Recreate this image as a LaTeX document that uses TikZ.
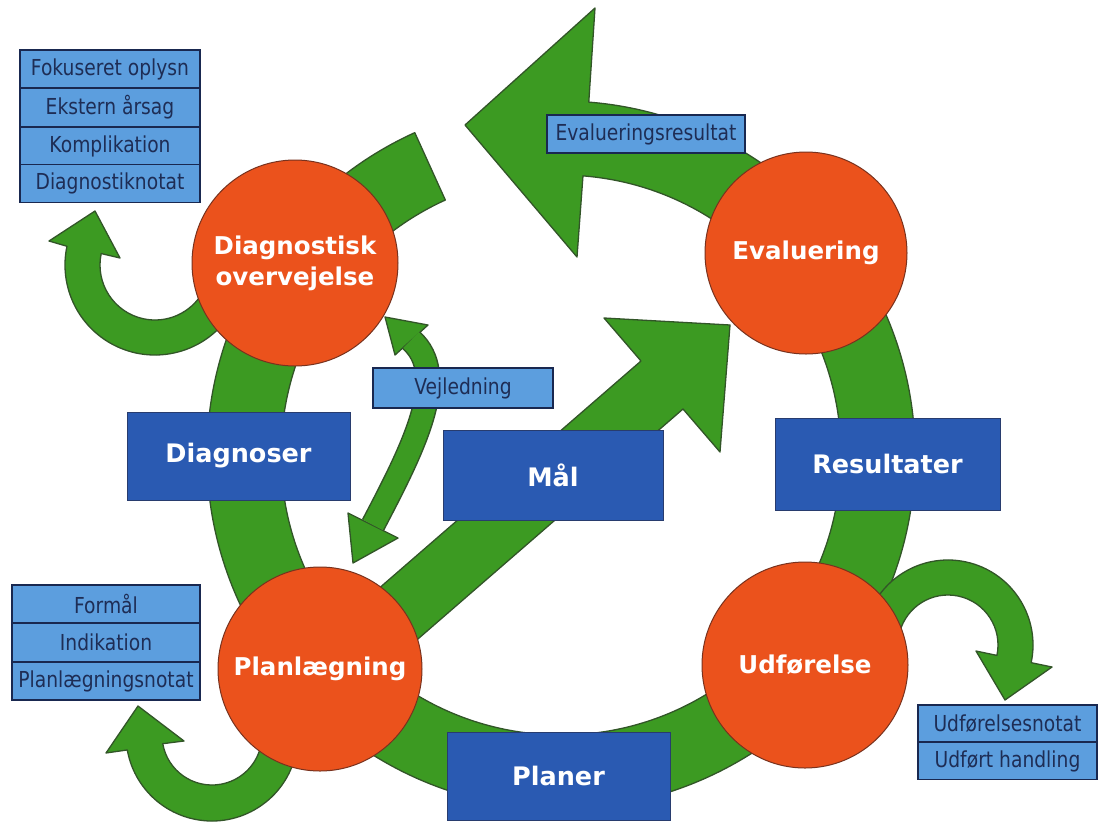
\documentclass[tikz,border=0pt]{standalone}
\usepackage{fontspec}
\setmainfont{DejaVu Sans}
\newfontfamily\lightfont[FakeStretch=0.85]{DejaVu Sans}
\definecolor{grn}{RGB}{60,154,34}
\definecolor{grnd}{RGB}{50,85,40}
\definecolor{org}{RGB}{235,82,28}
\definecolor{orgd}{RGB}{120,50,30}
\definecolor{dblue}{RGB}{42,90,178}
\definecolor{dbluedk}{RGB}{40,60,110}
\definecolor{lblue}{RGB}{92,158,222}
\definecolor{navy}{RGB}{25,40,80}
\definecolor{ltxt}{RGB}{30,45,85}
\begin{document}
\begin{tikzpicture}[x=1pt,y=-1pt,
  greenshape/.style={fill=grn, draw=grnd, line width=1.3pt, line join=round},
  circ/.style={circle, fill=org, draw=orgd, line width=1pt, text=white,
    font=\bfseries\fontsize{24.5}{31}\selectfont, align=center, inner sep=0pt},
  dbox/.style={rectangle, fill=dblue, draw=dbluedk, line width=1pt, text=white,
    font=\bfseries\fontsize{25.5}{29}\selectfont, inner sep=0pt},
  lbox/.style={rectangle, fill=lblue, draw=navy, line width=1.5pt, text=ltxt,
    font=\lightfont\fontsize{22}{26}\selectfont, inner sep=0pt}
]
\useasboundingbox (0,0) rectangle (1098,823);
\fill[white] (0,0) rectangle (1098,823);

% big cycle arrow
\path[greenshape] ([shift={(561,455)}]245.6:354)
  arc[start angle=245.6, end angle=-85.5, radius=354]
  -- (595,8) -- (465,125) -- (577,257)
  -- ([shift={(561,455)}]-85.5:280)
  arc[start angle=-85.5, end angle=245.6, radius=280] -- cycle;

% small loop arrows
\path[greenshape] ([shift={(155,265)}]30:90)
  arc[start angle=30, end angle=192, radius=90]
  -- (49,241) -- (95,211) -- (120,258)
  -- ([shift={(155,265)}]192:55)
  arc[start angle=192, end angle=30, radius=55] -- cycle;

\path[greenshape] ([shift={(212,735)}]15:86)
  arc[start angle=15, end angle=170, radius=86]
  -- (106,753) -- (138,706) -- (184,741)
  -- ([shift={(212,735)}]170:50)
  arc[start angle=170, end angle=15, radius=50] -- cycle;

\path[greenshape] ([shift={(948,645)}]195:85)
  arc[start angle=195, end angle=372, radius=85]
  -- (1052,667) -- (1005,700) -- (976,651)
  -- ([shift={(948,645)}]372:50)
  arc[start angle=372, end angle=195, radius=50] -- cycle;

% Maal arrow
\path[greenshape] (339,623) -- (641,361) -- (604,318) -- (730,325)
  -- (720,452) -- (683,409) -- (381,671) -- cycle;

% Vejledning double arrow
\coordinate (vA) at (411,340);
\coordinate (vB) at (373,525);
\draw[grnd, line width=25] (vA) .. controls (450,375) and (415,445) .. (vB);
\path[greenshape] (395,355) -- (385,317) -- (428,325) -- cycle;
\path[greenshape] (348,513) -- (353,563) -- (398,538) -- cycle;
\draw[grn, line width=22] (vA) .. controls (450,375) and (415,445) .. (vB);

% circles
\node[circ, minimum size=206pt] (diag) at (295,263) {Diagnostisk\\overvejelse};
\node[circ, minimum size=202pt] (eval) at (806,253) {Evaluering};
\node[circ, minimum size=204pt] (plan) at (320,669) {Planlægning};
\node[circ, minimum size=206pt] (udf) at (805,665) {Udførelse};

% dark boxes
\node[dbox, minimum width=223pt, minimum height=88pt] (diagnoser) at (238.5,456) {Diagnoser};
\node[dbox, minimum width=220pt, minimum height=90pt] (maal) at (553,475) {Mål};
\node[dbox, minimum width=225pt, minimum height=92pt] (res) at (887.5,464) {Resultater};
\node[dbox, minimum width=223pt, minimum height=88pt] (planer) at (558.5,776) {Planer};

% light boxes
\node[lbox, minimum width=198pt, minimum height=38pt] (evres) at (646,134) {Evalueringsresultat};
\node[lbox, minimum width=180pt, minimum height=40pt] (vejl) at (463,388) {Vejledning};

\node[lbox, minimum width=180pt, minimum height=38pt] (tl1) at (110,69) {Fokuseret oplysn};
\node[lbox, minimum width=180pt, minimum height=38pt] (tl2) at (110,107.5) {Ekstern årsag};
\node[lbox, minimum width=180pt, minimum height=38pt] (tl3) at (110,146) {Komplikation};
\node[lbox, minimum width=180pt, minimum height=38pt] (tl4) at (110,183.5) {Diagnostiknotat};

\node[lbox, minimum width=188pt, minimum height=38pt] (bl1) at (106,604) {Formål};
\node[lbox, minimum width=188pt, minimum height=38pt] (bl2) at (106,642.5) {Indikation};
\node[lbox, minimum width=188pt, minimum height=38pt] (bl3) at (106,681) {Planlægningsnotat};

\node[lbox, minimum width=179pt, minimum height=37pt] (br1) at (1007.5,723.5) {Udførelsesnotat};
\node[lbox, minimum width=179pt, minimum height=37pt] (br2) at (1007.5,761) {Udført handling};
\end{tikzpicture}
\end{document}
